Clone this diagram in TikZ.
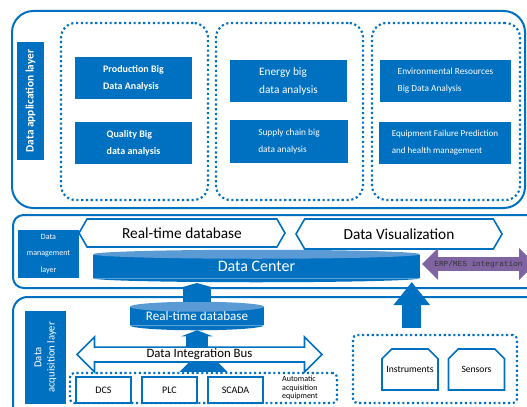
\documentclass[tikz,border=0pt]{standalone}
\usepackage{fontspec}
\setmainfont{Carlito}
\newfontfamily\erpfont{Liberation Mono}
\usetikzlibrary{shapes.symbols,shapes.arrows,shapes.misc,arrows.meta,calc}
\definecolor{appblue}{RGB}{0,112,192}
\definecolor{capblue}{RGB}{91,155,213}
\definecolor{erppurple}{RGB}{128,100,162}

\begin{document}
\begin{tikzpicture}[x=0.75pt, y=-0.75pt,
    layer/.style = {draw=appblue, line width=1.5pt, rounded corners=#1, inner sep=0pt},
    group/.style = {draw=appblue, line width=1.6pt, dotted, rounded corners=#1, inner sep=0pt},
    task/.style = {fill=appblue, text=white, align=left, minimum height=31.5pt, inner sep=0pt},
    tag/.style = {fill=appblue, text=white, align=center, inner sep=0pt},
    hexa/.style = {signal, signal to=west and east, signal pointer angle=120, draw=appblue,
        line width=1.2pt, fill=white, inner sep=0pt, minimum width=154.5pt,
        font=\fontsize{11.5}{13}\selectfont},
    store/.style = {fill=appblue, text=white, inner sep=0pt},
    device/.style = {draw=appblue, line width=1.2pt, fill=white, minimum width=41.25pt,
        minimum height=19.5pt, inner sep=0pt, font=\fontsize{7.5}{9}\selectfont},
    sensor/.style = {chamfered rectangle, chamfered rectangle corners={north west,north east},
        chamfered rectangle xsep=5pt, chamfered rectangle ysep=5pt, draw=appblue,
        line width=1.2pt, minimum width=42pt, minimum height=30.75pt, inner sep=0pt,
        font=\fontsize{7.2}{8}\selectfont},
    lift/.style n args = {3}{draw=appblue, line width=#1,
        -{Triangle[length=#3, width=#2]}}
]
\useasboundingbox (0,0) rectangle (527,406);
\clip (0,0) rectangle (527,406);

% data application layer
\node[layer=16pt, minimum width=384.75pt, minimum height=147.75pt] (applayer) at (268.5,109.5) {};
\node[tag, rotate=90, minimum width=88.5pt, minimum height=20.25pt,
    font=\bfseries\fontsize{8.5}{10}\selectfont] (apptag) at (30.5,101) {Data application layer};
\node[group=11pt, minimum width=110.25pt, minimum height=132.75pt] (prodgroup) at (134.5,111.5) {};
\node[group=11pt, minimum width=110.25pt, minimum height=132.75pt] (energygroup) at (289.5,111.5) {};
\node[group=11pt, minimum width=111pt, minimum height=132.75pt] (envgroup) at (446,111.5) {};

\node[task, minimum width=87.75pt, font=\bfseries\fontsize{7.5}{12.75}\selectfont]
    (production) at (133.5,78) {Production Big\\Data Analysis};
\node[task, minimum width=87.75pt, font=\bfseries\fontsize{7.5}{12.75}\selectfont]
    (quality) at (133.5,143) {Quality Big\\data analysis};
\node[task, minimum width=87.75pt, font=\fontsize{8.5}{13.5}\selectfont]
    (energy) at (288.5,81) {Energy big\\data analysis};
\node[task, minimum width=88.5pt, minimum height=32.25pt, font=\fontsize{7}{12.75}\selectfont]
    (supply) at (289,141.5) {Supply chain big\\data analysis};
\node[task, minimum width=98.25pt, font=\fontsize{7}{12.75}\selectfont]
    (environment) at (445.5,81) {Environmental Resources\\Big Data Analysis};
\node[task, minimum width=99pt, font=\fontsize{6.8}{12.75}\selectfont]
    (equipment) at (445,143) {Equipment Failure Prediction\\and health management};

% data management layer
\node[layer=8pt, minimum width=395.25pt, minimum height=54.75pt] (mgmtlayer) at (276.5,251.5) {};
\node[tag, minimum width=45.75pt, minimum height=36pt, font=\fontsize{6}{12.5}\selectfont]
    (mgmttag) at (48.5,254) {Data\\management\\layer};
\node[hexa, minimum height=21pt] (rtview) at (182,233) {Real-time database};
\node[hexa, minimum height=22.5pt] (visual) at (399,234) {Data Visualization};
\node[store, minimum width=245.25pt, minimum height=17.6pt,
    font=\fontsize{12}{14}\selectfont] (center) at (256.5,266.25) {\raisebox{-1.5pt}{Data Center}};
\fill[appblue] (center.south west) arc[start angle=180, end angle=0, x radius=163.5, y radius=4];
\fill[capblue] (center.north) ellipse[x radius=163.5, y radius=4.5];
\node[double arrow, fill=erppurple, minimum width=24pt, minimum height=84.75pt,
    double arrow head extend=3.75pt, inner sep=0pt,
    font=\erpfont\fontsize{5.8}{7}\selectfont, text=black!80] (erp) at (478.5,264) {ERP/MES integration};

% data acquisition layer
\node[layer=11pt, minimum width=395.25pt, minimum height=92.25pt] (acqlayer) at (276.5,358.5) {};
\node[tag, rotate=90, minimum width=69.75pt, minimum height=30.75pt,
    font=\fontsize{8}{10}\selectfont] (acqtag) at (45.5,357.5) {Data\\acquisition layer};
\node[store, minimum width=100.5pt, minimum height=13.5pt,
    font=\fontsize{9.8}{12}\selectfont] (rtdb) at (197,316) {Real-time database};
\fill[appblue] (rtdb.south west) arc[start angle=180, end angle=0, x radius=67, y radius=5];
\fill[capblue] (rtdb.north) ellipse[x radius=67, y radius=5];
\node[group=3pt, minimum width=200.25pt, minimum height=22.5pt] (devices) at (203.5,388) {};
\node[device] (dcs) at (103.5,390) {DCS};
\node[device] (plc) at (169.5,390) {PLC};
\node[device] (scada) at (235.5,390) {SCADA};
\node[align=left, inner sep=0pt, font=\fontsize{6}{6.2}\selectfont] (auto) at (300,388)
    {Automatic\\acquisition\\equipment};
\node[group=3pt, minimum width=123pt, minimum height=51pt] (field) at (435,369) {};
\node[sensor] (instruments) at (410,369.5) {Instruments};
\node[sensor] (sensors) at (476.5,369.5) {Sensors};
\coordinate (fieldtop) at ($(field.north west)!0.36!(field.north east)$);

% block arrows
\draw[lift={16.5pt}{23.25pt}{4.5pt}] (rtdb.south |- 0,350) -- ([yshift=-3.75pt]rtdb.south);
\node[double arrow, draw=appblue, fill=white, line width=1.2pt, minimum width=26.25pt,
    minimum height=183.75pt, double arrow head extend=6.4pt, inner sep=0pt,
    font=\fontsize{9.6}{11}\selectfont] (bus) at (199.5,354.5) {Data Integration Bus};
\fill[appblue] (devices.north) ++(-24,0) -- ++(48,0) -- ++(-9,-9) -- ++(-30,0) -- cycle;
\draw[lift={21pt}{26.25pt}{3.75pt}] ([yshift=3.75pt]rtdb.north) -- (rtdb.north |- 0,283);
\draw[lift={14.25pt}{26.25pt}{17.25pt}] ([yshift=4.5pt]fieldtop) -- (fieldtop |- 0,282);
\end{tikzpicture}
\end{document}
